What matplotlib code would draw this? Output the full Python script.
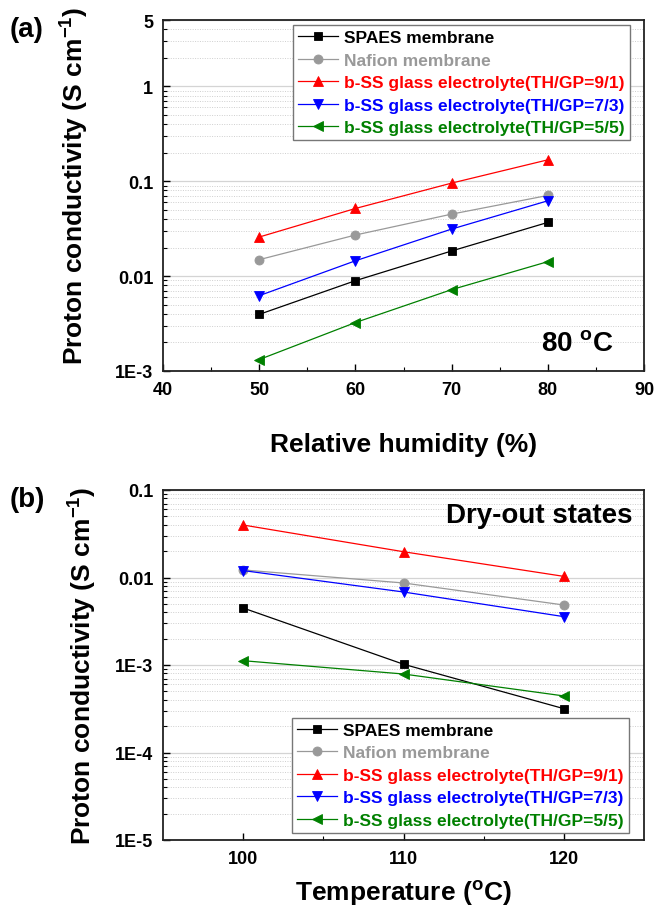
import matplotlib
matplotlib.use("Agg")
import matplotlib.pyplot as plt
from matplotlib.ticker import FixedLocator, LogLocator, NullFormatter, FixedFormatter

plt.rcParams['font.family'] = ['Liberation Sans', 'DejaVu Sans']
plt.rcParams['font.weight'] = 'bold'
plt.rcParams['mathtext.fontset'] = 'custom'
plt.rcParams['mathtext.rm'] = 'Liberation Sans:bold'
plt.rcParams['mathtext.it'] = 'Liberation Sans:bold'
plt.rcParams['mathtext.bf'] = 'Liberation Sans:bold'

# ---- data ----
series_names = ["SPAES membrane", "Nafion membrane",
                "b-SS glass electrolyte(TH/GP=9/1)",
                "b-SS glass electrolyte(TH/GP=7/3)",
                "b-SS glass electrolyte(TH/GP=5/5)"]
colors = ["#000000", "#999999", "#ff0000", "#0000ff", "#008000"]
text_colors = ["#000000", "#999999", "#ff0000", "#0000ff", "#008000"]
markers = ["s", "o", "^", "v", "<"]
msizes = [5.5, 6.5, 7, 7, 7]

rh = [50, 60, 70, 80]
rh_spaes = [0.00395, 0.00895, 0.0184, 0.0368]
rh_nafion = [0.0149, 0.0271, 0.045, 0.0708]
rh_91 = [0.0258, 0.0516, 0.0955, 0.168]
rh_73 = [0.00622, 0.0145, 0.0313, 0.0622]
rh_55 = [0.00132, 0.00324, 0.0072, 0.0142]

temp = [100, 110, 120]
t_spaes = [0.00448, 0.00102, 0.000317]
t_nafion = [0.0122, 0.00866, 0.00485]
t_91 = [0.0398, 0.0197, 0.0103]
t_73 = [0.0120, 0.00683, 0.00357]
t_55 = [0.00112, 0.000789, 0.000443]

a_yticks = [1e-3, 1e-2, 1e-1, 1, 5]
a_ylabels = ["1E-3", "0.01", "0.1", "1", "5"]
b_yticks = [1e-5, 1e-4, 1e-3, 1e-2, 1e-1]
b_ylabels = ["1E-5", "1E-4", "1E-3", "0.01", "0.1"]
a_xticks = [40, 50, 60, 70, 80, 90]
b_xticks = [100, 110, 120]

W, H = 654, 912
fig = plt.figure(figsize=(W / 100, H / 100), dpi=100)

def px_axes(l, t, r, b):
    return fig.add_axes([l / W, 1 - b / H, (r - l) / W, (b - t) / H])

axA = px_axes(163, 21, 644, 372)
axB = px_axes(163, 491, 644, 841)

def style(ax):
    ax.set_yscale('log')
    ax.set_axisbelow(True)
    ax.yaxis.set_minor_locator(LogLocator(base=10, subs=range(2, 10)))
    ax.yaxis.set_minor_formatter(NullFormatter())
    ax.grid(True, which='major', axis='y', color='#d4d4d4', lw=0.9, ls='-')
    ax.grid(True, which='minor', axis='y', color='#cfcfcf', lw=0.7, ls=(0, (1, 1.5)))
    ax.tick_params(which='both', direction='in', top=False, right=False)
    ax.tick_params(which='major', length=5, width=1.0, labelsize=13, pad=7)
    ax.tick_params(which='minor', length=3, width=0.8)
    for s in ax.spines.values():
        s.set_linewidth(1.3)
        s.set_color('#222222')

def plot_series(ax, x, ys):
    for y, c, m, ms, name in zip(ys, colors, markers, msizes, series_names):
        ax.plot(x, y, color=c, marker=m, markersize=ms, lw=0.9,
                markeredgewidth=0.6, label=name)

def add_legend(ax, loc, anchor):
    leg = ax.legend(loc=loc, bbox_to_anchor=anchor,
                    prop={'weight': 'bold', 'size': 12.5},
                    frameon=True, fancybox=False, framealpha=1,
                    edgecolor='#777777', borderaxespad=0, borderpad=0.3,
                    labelspacing=0.42, handlelength=2.3, handletextpad=0.35)
    leg.get_frame().set_linewidth(1.0)
    for t, c in zip(leg.get_texts(), text_colors):
        t.set_color(c)
    return leg

# ---- panel (a) ----
style(axA)
plot_series(axA, rh, [rh_spaes, rh_nafion, rh_91, rh_73, rh_55])
axA.set_xlim(40, 90)
axA.set_ylim(1e-3, 5)
axA.xaxis.set_major_locator(FixedLocator(a_xticks))
axA.xaxis.set_minor_locator(FixedLocator([45, 55, 65, 75, 85]))
axA.yaxis.set_major_locator(FixedLocator(a_yticks))
axA.yaxis.set_major_formatter(FixedFormatter(a_ylabels))
axA.set_xlabel("Relative humidity (%)", fontsize=19, fontweight='bold')
axA.set_ylabel("Proton conductivity (S cm$^{-1}$)", fontsize=19, fontweight='bold')
axA.xaxis.label.set_va('baseline')
axA.yaxis.label.set_va('baseline')
axA.xaxis.set_label_coords(0.5, -0.228)
axA.yaxis.set_label_coords(-0.165, 0.53)
add_legend(axA, 'upper right', (0.971, 0.986))
axA.text(0.936, 0.06, "80 $^{\\mathrm{o}}$C", transform=axA.transAxes,
         ha='right', va='baseline', fontsize=20, fontweight='bold')

# ---- panel (b) ----
style(axB)
plot_series(axB, temp, [t_spaes, t_nafion, t_91, t_73, t_55])
axB.set_xlim(95, 125)
axB.set_ylim(1e-5, 1e-1)
axB.xaxis.set_major_locator(FixedLocator(b_xticks))
axB.xaxis.set_minor_locator(FixedLocator([105, 115]))
axB.yaxis.set_major_locator(FixedLocator(b_yticks))
axB.yaxis.set_major_formatter(FixedFormatter(b_ylabels))
axB.set_xlabel("Temperature ($^{\\mathrm{o}}$C)", fontsize=19, fontweight='bold')
axB.set_ylabel("Proton conductivity (S cm$^{-1}$)", fontsize=19, fontweight='bold')
axB.xaxis.label.set_va('baseline')
axB.yaxis.label.set_va('baseline')
axB.xaxis.set_label_coords(0.5, -0.172)
axB.yaxis.set_label_coords(-0.148, 0.5)
add_legend(axB, 'lower right', (0.969, 0.02))
axB.text(0.977, 0.909, "Dry-out states", transform=axB.transAxes,
         ha='right', va='baseline', fontsize=20, fontweight='bold')

fig.text(10 / W, 1 - 30 / H, "(a)", ha='left', va='center', fontsize=20, fontweight='bold')
fig.text(10 / W, 1 - 500 / H, "(b)", ha='left', va='center', fontsize=20, fontweight='bold')

fig.savefig("out.png", dpi=100)
